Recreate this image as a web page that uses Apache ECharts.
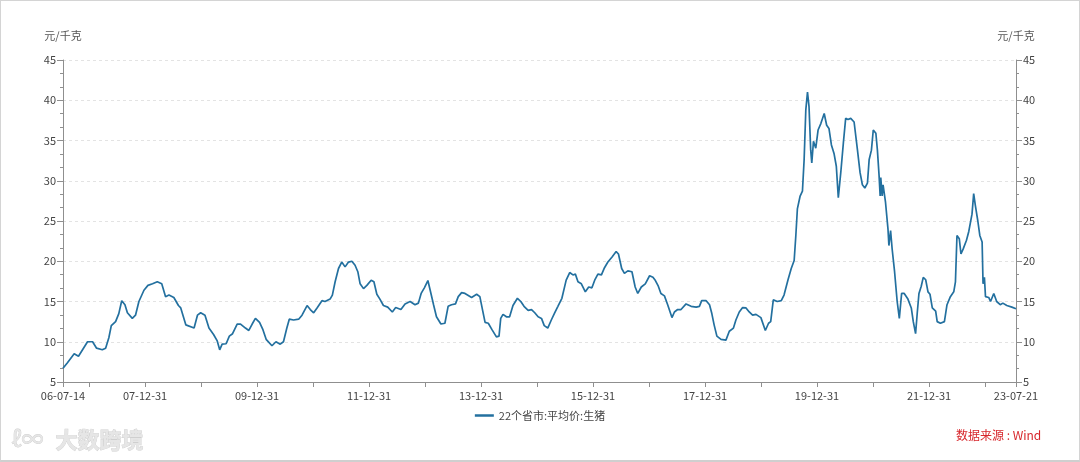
<!DOCTYPE html>
<html>
<head>
<meta charset="utf-8">
<script src="https://cdn.jsdelivr.net/npm/echarts@6/dist/echarts.min.js"></script>
<style>
html,body{margin:0;padding:0;background:#fff;}
#chart{width:1080px;height:462px;box-sizing:border-box;border:1px solid #d4d4d4;border-bottom:2px solid #cfcfcf;}
</style>
</head>
<body>
<div id="chart"></div>
<script>
// Dates (categories) and values
const dates = [
'2006-07-14','2006-08-12','2006-09-25','2006-10-23','2006-12-21','2007-01-23','2007-02-18','2007-03-27','2007-04-18','2007-05-09',
'2007-05-25','2007-06-22','2007-07-13','2007-08-01','2007-08-22','2007-09-07','2007-10-09','2007-10-30','2007-11-21','2007-12-24',
'2008-01-19','2008-02-18','2008-03-20','2008-04-18','2008-05-13','2008-06-04','2008-07-06','2008-08-05','2008-08-20','2008-09-22',
'2008-11-15','2008-12-07','2008-12-28','2009-01-25','2009-02-20','2009-03-22','2009-04-15','2009-05-01','2009-05-17','2009-06-12',
'2009-07-03','2009-07-24','2009-08-23','2009-09-14','2009-10-16','2009-11-07','2009-11-29','2009-12-20','2010-01-16','2010-02-07',
'2010-02-28','2010-04-07','2010-05-03','2010-05-31','2010-06-21','2010-07-13','2010-07-29','2010-08-26','2010-09-28','2010-10-20',
'2010-11-22','2010-12-13','2011-01-04','2011-01-26','2011-02-27','2011-03-19','2011-04-21','2011-05-06','2011-05-24','2011-06-15',
'2011-07-06','2011-07-28','2011-08-19','2011-09-10','2011-10-01','2011-10-19','2011-11-03','2011-11-25','2011-12-17','2012-01-14',
'2012-02-01','2012-02-20','2012-03-11','2012-04-03','2012-05-01','2012-05-31','2012-06-22','2012-07-26','2012-08-22','2012-09-24',
'2012-10-26','2012-11-17','2012-12-05','2012-12-26','2013-01-18','2013-02-02','2013-02-24','2013-03-15','2013-04-13','2013-05-09',
'2013-05-30','2013-06-21','2013-07-17','2013-08-04','2013-08-26','2013-09-17','2013-10-30','2013-12-02','2013-12-23','2014-01-11',
'2014-01-26','2014-02-16','2014-03-12','2014-04-10','2014-04-27','2014-05-08','2014-05-23','2014-06-14','2014-07-05','2014-07-27',
'2014-08-25','2014-09-16','2014-10-07','2014-11-03','2014-11-25','2014-12-16','2015-01-07','2015-01-29','2015-02-16','2015-03-11',
'2015-04-03','2015-04-25','2015-05-16','2015-06-11','2015-07-09','2015-08-01','2015-08-22','2015-09-07','2015-09-24','2015-10-16',
'2015-11-11','2015-12-03','2015-12-24','2016-01-11','2016-02-01','2016-02-24','2016-03-15','2016-04-06','2016-05-02','2016-05-30',
'2016-06-14','2016-07-05','2016-07-23','2016-08-14','2016-09-10','2016-10-01','2016-10-18','2016-11-10','2016-12-06','2017-01-03',
'2017-01-25','2017-02-10','2017-03-01','2017-03-18','2017-04-10','2017-05-01','2017-05-29','2017-06-14','2017-07-05','2017-07-27',
'2017-08-29','2017-10-01','2017-11-03','2017-11-24','2017-12-09','2018-01-07','2018-01-29','2018-02-13','2018-02-28','2018-03-18',
'2018-04-14','2018-05-16','2018-06-07','2018-07-04','2018-07-20','2018-08-11','2018-09-02','2018-09-24','2018-10-15','2018-11-06',
'2018-11-28','2018-12-30','2019-01-28','2019-02-18','2019-03-04','2019-03-21','2019-04-16','2019-05-12','2019-05-30','2019-06-25',
'2019-07-16','2019-08-04','2019-08-15','2019-08-25','2019-09-12','2019-09-27','2019-10-08','2019-10-19','2019-10-30','2019-11-09',
'2019-11-20','2019-11-27','2019-12-08','2019-12-23','2020-01-07','2020-01-25','2020-02-16','2020-03-03','2020-03-18','2020-04-03',
'2020-04-20','2020-05-05','2020-05-18','2020-06-03','2020-06-20','2020-07-05','2020-07-20','2020-08-07','2020-08-29','2020-09-20',
'2020-10-07','2020-10-22','2020-11-07','2020-11-24','2020-12-05','2020-12-20','2021-01-01','2021-01-18','2021-01-28','2021-02-08',
'2021-02-15','2021-02-19','2021-02-28','2021-03-06','2021-03-22','2021-04-07','2021-04-13','2021-04-24','2021-05-04','2021-05-20',
'2021-06-06','2021-06-20','2021-07-05','2021-07-22','2021-08-15','2021-09-06','2021-09-19','2021-10-04','2021-10-15','2021-10-26',
'2021-11-10','2021-11-23','2021-12-09','2021-12-24','2022-01-06','2022-01-21','2022-02-12','2022-02-22','2022-03-15','2022-04-10',
'2022-04-27','2022-05-19','2022-06-10','2022-06-21','2022-07-01','2022-07-16','2022-07-27','2022-08-10','2022-09-01','2022-09-16',
'2022-09-27','2022-10-07','2022-10-18','2022-10-29','2022-11-14','2022-11-27','2022-12-12','2022-12-18','2022-12-27','2023-01-03',
'2023-01-24','2023-02-05','2023-02-26','2023-03-17','2023-04-09','2023-04-26','2023-05-22','2023-06-24','2023-07-21'
];
const prices = [
6.7,7.4,8.5,8.2,10.0,10.0,9.2,9.0,9.2,10.5,
12.0,12.5,13.5,15.1,14.6,13.6,12.9,13.3,15.0,16.4,
17.0,17.2,17.45,17.2,15.6,15.8,15.5,14.5,14.2,12.1,
11.7,13.3,13.6,13.3,11.7,10.9,10.1,9.0,9.7,9.75,
10.7,11.0,12.2,12.2,11.7,11.4,12.2,12.9,12.4,11.5,
10.3,9.5,10.0,9.7,10.0,11.7,12.8,12.7,12.8,13.3,
14.5,14.0,13.6,14.2,15.1,15.0,15.3,15.8,17.45,19.1,
19.9,19.3,19.9,20.0,19.5,18.7,17.2,16.6,17.0,17.65,
17.45,15.9,15.3,14.5,14.3,13.7,14.25,14.0,14.7,15.0,
14.6,14.8,16.0,16.7,17.6,16.4,14.6,13.1,12.2,12.3,
14.4,14.6,14.7,15.6,16.1,16.0,15.5,15.9,15.6,13.8,
12.4,12.3,11.5,10.6,10.7,12.9,13.4,13.1,13.1,14.5,
15.4,15.0,14.4,13.9,14.0,13.6,13.1,12.9,12.0,11.7,
12.7,13.6,14.4,15.4,17.65,18.6,18.3,18.4,17.45,17.2,
16.2,16.8,16.7,17.65,18.4,18.3,19.2,19.9,20.5,21.2,
20.9,19.1,18.5,18.8,18.7,16.8,16.0,16.8,17.2,18.2,
18.0,17.6,16.9,16.0,15.7,14.6,13.0,13.7,14.0,14.0,
14.7,14.4,14.3,14.4,15.1,15.1,14.6,13.5,12.1,10.7,
10.3,10.2,11.3,11.7,12.7,13.7,14.25,14.2,13.7,13.3,
13.4,13.0,11.4,12.3,12.5,15.2,15.0,15.1,15.8,17.7,
19.1,20.1,23.2,26.5,28.1,28.7,32.6,38.8,41.0,39.2,
33.8,32.2,34.9,34.05,36.3,37.1,38.35,36.9,36.5,34.45,
33.4,31.8,27.9,31.0,34.7,37.75,37.6,37.75,37.3,33.8,
31.0,29.5,29.1,29.7,32.6,33.8,36.3,35.9,33.8,30.6,
28.1,30.4,28.1,29.5,27.3,24.0,21.95,23.8,21.55,18.7,
15.0,12.9,16.0,16.0,15.3,14.2,12.5,11.0,13.6,16.0,
16.9,18.0,17.7,16.2,15.9,14.2,13.8,12.5,12.3,12.5,
14.6,15.6,16.2,17.45,23.2,22.8,20.9,21.5,22.6,23.7,
23.6,25.85,28.4,26.9,25.0,23.2,22.4,17.2,18.0,15.6,
15.5,15.0,16.0,15.0,14.6,14.8,14.5,14.3,14.1
];
const seriesName = '22个省市:平均价:生猪';
const yUnit = '元/千克';
const xLabelDates = ['2006-07-14','2007-12-31','2009-12-31','2011-12-31','2013-12-31','2015-12-31','2017-12-31','2019-12-31','2021-12-31','2023-07-21'];
const xTickDates = ['2006-07-14','2006-12-31','2007-12-31','2008-12-31','2009-12-31','2010-12-31','2011-12-31','2012-12-31','2013-12-31','2014-12-31','2015-12-31','2016-12-31','2017-12-31','2018-12-31','2019-12-31','2020-12-31','2021-12-31','2022-12-31','2023-07-21'];
const yMin = 5, yMax = 45, yStep = 5;

function ts(s){ const p = s.split('-'); return Date.UTC(+p[0], +p[1]-1, +p[2]); }
function fmt(v){
  const d = new Date(v);
  const y = String(d.getUTCFullYear()).slice(2);
  const m = String(d.getUTCMonth()+1).padStart(2,'0');
  const dd = String(d.getUTCDate()).padStart(2,'0');
  return y + '-' + m + '-' + dd;
}
const seriesData = dates.map((d,i)=>[ts(d), prices[i]]);

const FONT = '"Noto Sans CJK SC","Noto Sans",sans-serif';
const axisGrey = '#8f8f8f';
const labelColor = '#444';

const chart = echarts.init(document.getElementById('chart'), null, {renderer:'canvas'});
function yAxisCfg(pos, showSplit){
  return {
    type:'value', position:pos, min:yMin, max:yMax, interval:yStep,
    name: yUnit, nameLocation:'end', nameGap:19,
    nameTextStyle:{color:'#555', fontSize:11, fontFamily:FONT, align:'center'},
    axisLine:{show:true, lineStyle:{color:axisGrey, width:1}},
    axisTick:{show:true, length:6, lineStyle:{color:axisGrey}},
    minorTick:{show:true, splitNumber:3, length:3, lineStyle:{color:axisGrey}},
    axisLabel:{color:labelColor, fontSize:11, fontFamily:FONT, margin:7},
    splitLine:{show:showSplit, lineStyle:{color:'#e3e3e3', type:[3,3]}},
    minorSplitLine:{show:false}
  };
}
chart.setOption({
  animation:false,
  backgroundColor:'#fff',
  textStyle:{fontFamily:FONT},
  grid:{left:62, right:63, top:59, bottom:78, containLabel:false},
  legend:{
    data:[seriesName], bottom:34, left:'center',
    icon:'rect', itemWidth:19, itemHeight:2.5, itemGap:6,
    textStyle:{color:'#444', fontSize:11, fontFamily:FONT}
  },
  xAxis:{
    type:'value', min:ts(dates[0]), max:ts(dates[dates.length-1]),
    axisLine:{show:true, lineStyle:{color:axisGrey, width:1}},
    axisTick:{show:true, length:5, customValues:xTickDates.map(ts), lineStyle:{color:axisGrey}},
    axisLabel:{customValues:xLabelDates.map(ts), formatter:(v)=>fmt(v), color:labelColor, fontSize:11, fontFamily:FONT, margin:8, showMinLabel:true, showMaxLabel:true, hideOverlap:false},
    splitLine:{show:false}
  },
  yAxis:[yAxisCfg('left', true), yAxisCfg('right', false)],
  series:[{
    name:seriesName, type:'line', data:seriesData, yAxisIndex:0,
    showSymbol:false, symbol:'none', smooth:false,
    lineStyle:{color:'#23709f', width:1.7}, itemStyle:{color:'#23709f'}
  }],
  graphic:[
    {type:'text', left:955, top:428, style:{text:'数据来源 : Wind', fill:'#d7262b', fontSize:12, fontFamily:FONT}},
    {type:'text', left:54, top:427, style:{text:'大数跨境', fill:'#e6e6e6', stroke:'#cfcfcf', lineWidth:0.8, fontSize:22, fontWeight:'bold', fontFamily:FONT}},
    {type:'text', left:10, top:426, style:{text:'ℓ∞', fill:'#e6e6e6', stroke:'#cfcfcf', lineWidth:0.8, fontSize:22, fontFamily:FONT}}
  ]
});
</script>
</body>
</html>
